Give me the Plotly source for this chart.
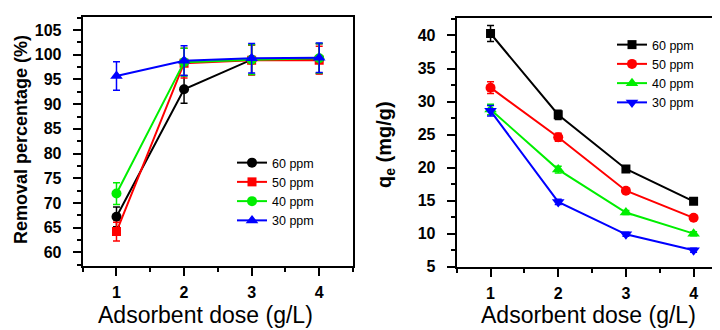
import plotly.graph_objects as go

dose = [1, 2, 3, 4]
series_names = ["60 ppm", "50 ppm", "40 ppm", "30 ppm"]

# Left panel: removal percentage (%)
rem_60 = [67.2, 93.0, 99.0, 99.2]
rem_50 = [64.2, 98.3, 98.9, 98.9]
rem_40 = [71.9, 98.5, 99.0, 99.3]
rem_30 = [95.7, 98.8, 99.3, 99.4]
rem_err_60 = [2.0, 2.8, 3.0, 3.0]
rem_err_50 = [1.9, 3.0, 3.0, 2.8]
rem_err_40 = [2.2, 2.8, 3.0, 3.0]
rem_err_30 = [2.9, 3.0, 3.0, 3.0]

# Right panel: qe (mg/g)
qe_60 = [40.3, 28.0, 19.8, 14.9]
qe_50 = [32.1, 24.6, 16.5, 12.4]
qe_40 = [28.8, 19.7, 13.2, 10.0]
qe_30 = [28.6, 14.8, 9.9, 7.5]
qe_err_60 = [1.2, 0.7, 0.4, 0.3]
qe_err_50 = [0.9, 0.6, 0.4, 0.3]
qe_err_40 = [0.8, 0.5, 0.3, 0.3]
qe_err_30 = [0.8, 0.4, 0.3, 0.3]

colors = ["#000000", "#ff0000", "#00ee00", "#0000ff"]
left_symbols = ["circle", "square", "circle", "triangle-up"]
left_sizes = [10, 9, 10, 11]
right_symbols = ["square", "circle", "triangle-up", "triangle-down"]
right_sizes = [9, 10, 11, 11]

# The page body has an 8px margin, so the figure is 712x322 offset by 8px.
W, H, OFF = 712, 322, 8


def px(xp):
    return (xp - OFF) / W


def py(yp):
    return 1 - (yp - OFF) / H


fig = go.Figure()

left_y = [rem_60, rem_50, rem_40, rem_30]
left_e = [rem_err_60, rem_err_50, rem_err_40, rem_err_30]
for name, y, e, c, s, sz in zip(series_names, left_y, left_e, colors, left_symbols, left_sizes):
    fig.add_trace(go.Scatter(
        x=dose, y=y, name=name, mode="lines+markers",
        line=dict(color=c, width=2),
        marker=dict(symbol=s, size=sz, color=c),
        error_y=dict(type="data", array=e, visible=True, color=c, thickness=1.5, width=3.5),
        xaxis="x", yaxis="y", legend="legend",
    ))

right_y = [qe_60, qe_50, qe_40, qe_30]
right_e = [qe_err_60, qe_err_50, qe_err_40, qe_err_30]
for name, y, e, c, s, sz in zip(series_names, right_y, right_e, colors, right_symbols, right_sizes):
    fig.add_trace(go.Scatter(
        x=dose, y=y, name=name, mode="lines+markers",
        line=dict(color=c, width=2),
        marker=dict(symbol=s, size=sz, color=c),
        error_y=dict(type="data", array=e, visible=True, color=c, thickness=1.5, width=3.5),
        xaxis="x2", yaxis="y2", legend="legend2",
    ))

tickfont_b = dict(family="Liberation Sans, Arial, sans-serif", size=16, color="black", weight="bold")

common_x = dict(
    range=[0.5, 4.5], tickvals=dose, ticktext=["<b>1</b>", "<b>2</b>", "<b>3</b>", "<b>4</b>"],
    ticks="outside", ticklen=8, tickwidth=2, tickcolor="black",
    minor=dict(dtick=0.5, tick0=0.5, ticks="outside", ticklen=4, tickwidth=2, tickcolor="black"),
    showline=True, linewidth=2, linecolor="black", mirror=True,
    showgrid=False, zeroline=False, tickfont=tickfont_b, ticklabelstandoff=3,
    automargin=False,
)
common_y = dict(
    ticks="outside", ticklen=8, tickwidth=2, tickcolor="black",
    showline=True, linewidth=2, linecolor="black",
    showgrid=False, zeroline=False, tickfont=tickfont_b, ticklabelstandoff=8,
    automargin=False,
)

fig.update_layout(
    width=W, height=H,
    margin=dict(l=0, r=0, t=0, b=0, autoexpand=False),
    paper_bgcolor="white", plot_bgcolor="white",
    font=dict(family="Liberation Sans, Arial, sans-serif", color="black"),
    xaxis=dict(domain=[px(82.7), px(353)], anchor="y", **common_x),
    yaxis=dict(domain=[py(265.7), py(16.7)], anchor="x", range=[57.3, 107.7], dtick=5, tick0=60,
               minor=dict(dtick=2.5, tick0=57.5, ticks="outside", ticklen=4, tickwidth=2, tickcolor="black"),
               mirror=True, **common_y),
    xaxis2=dict(domain=[px(456.7), 1.0], anchor="y2", **{**common_x, "range": [0.5, 4.39]}),
    yaxis2=dict(domain=[py(266.7), py(18.3)], anchor="x2", range=[5, 42.6], dtick=5, tick0=5,
                minor=dict(dtick=2.5, tick0=2.5, ticks="outside", ticklen=4, tickwidth=2, tickcolor="black"),
                mirror=False, **common_y),
    legend=dict(x=px(232), y=py(148), xanchor="left", yanchor="top", bgcolor="rgba(0,0,0,0)",
                font=dict(size=12.5, color="black"), tracegroupgap=0, itemwidth=30),
    legend2=dict(x=px(612), y=py(30), xanchor="left", yanchor="top", bgcolor="rgba(0,0,0,0)",
                 font=dict(size=12.5, color="black"), tracegroupgap=0, itemwidth=30),
    showlegend=True,
)

title_font = dict(family="Liberation Sans, Arial, sans-serif", size=23, color="black")
fig.add_annotation(text="Adsorbent dose (g/L)", x=px(205), y=py(315), xref="paper", yref="paper",
                   showarrow=False, font=title_font, xanchor="center", yanchor="middle")
fig.add_annotation(text="Adsorbent dose (g/L)", x=px(588), y=py(315), xref="paper", yref="paper",
                   showarrow=False, font=title_font, xanchor="center", yanchor="middle")
fig.add_annotation(text="<b>Removal percentage (%)</b>", x=px(21), y=py(140), xref="paper", yref="paper",
                   showarrow=False, textangle=-90, xanchor="center", yanchor="middle",
                   font=dict(family="Liberation Sans, Arial, sans-serif", size=18, color="black"))
fig.add_annotation(text="<b>q<sub>e</sub> (mg/g)</b>", x=px(385), y=py(145), xref="paper", yref="paper",
                   showarrow=False, textangle=-90, xanchor="center", yanchor="middle",
                   font=dict(family="Liberation Sans, Arial, sans-serif", size=20, color="black"))

fig.write_html("out.html")
